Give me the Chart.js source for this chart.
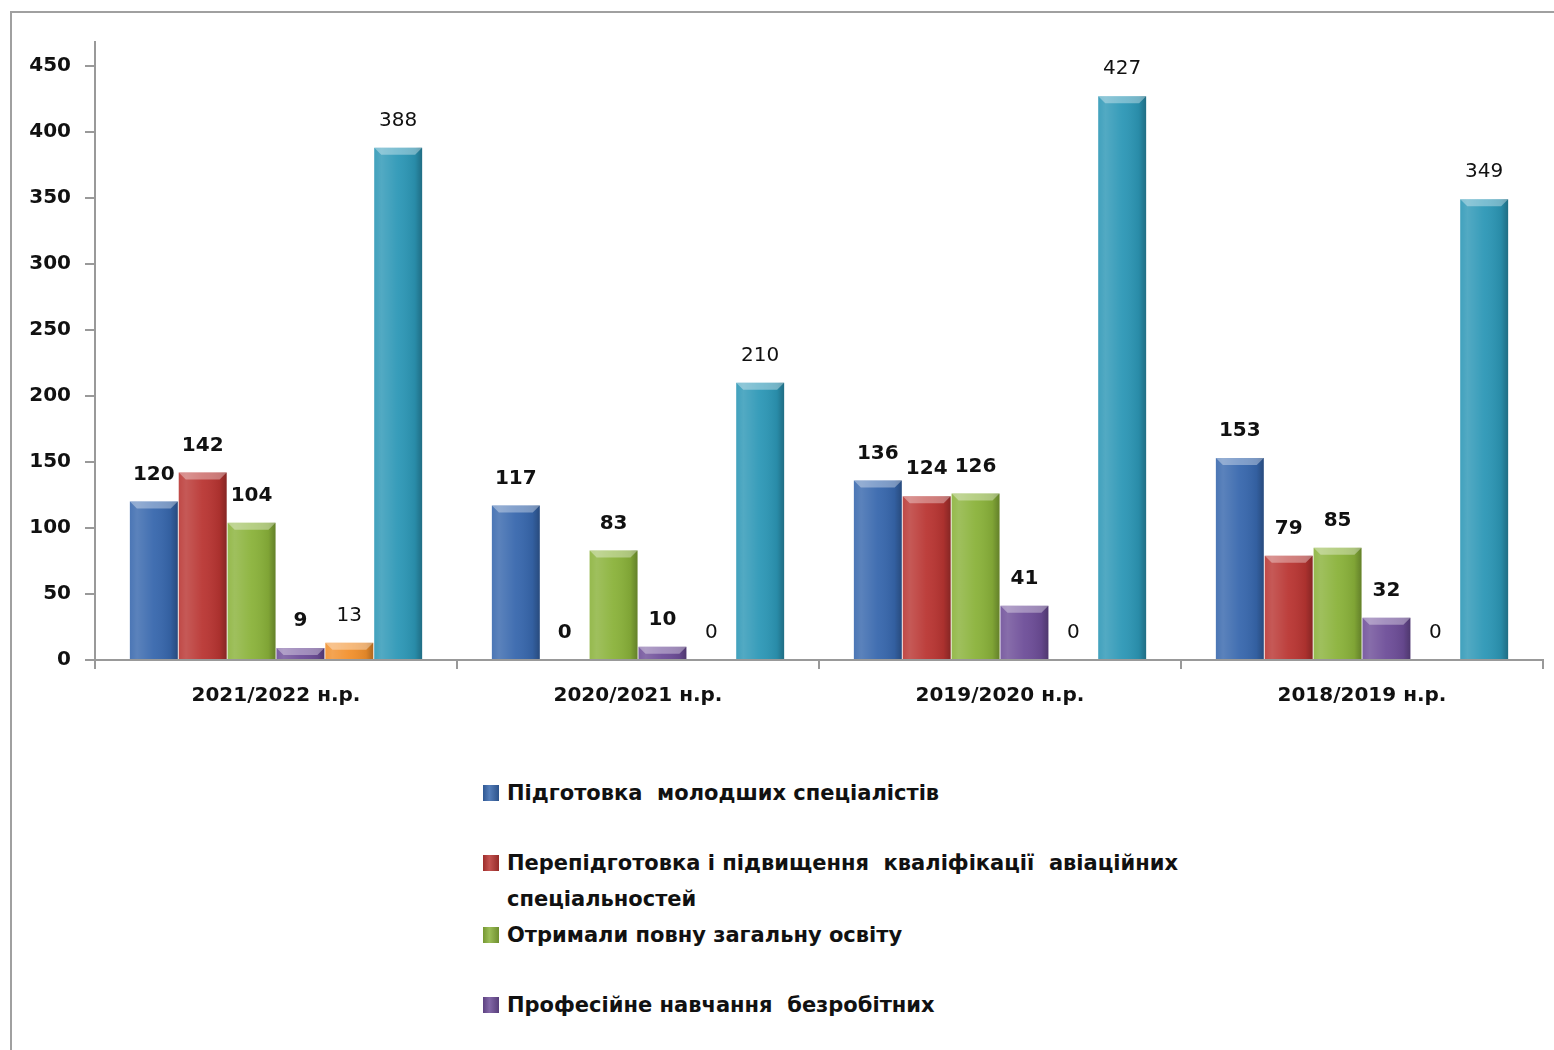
<!DOCTYPE html>
<html>
<head>
<meta charset="utf-8">
<script src="https://cdn.jsdelivr.net/npm/chart.js@4"></script>
<style>
  body { margin: 0; background: #fff; width: 1554px; height: 1050px; overflow: hidden; position: relative; }
  #frame { position: absolute; left: 10px; top: 11px; right: 0; bottom: 0; border-left: 2px solid #a0a0a0; border-top: 2px solid #a0a0a0; }
  #wrap { position: absolute; left: 0; top: 0; width: 1554px; height: 740px; }
  #legend { position: absolute; left: 483px; top: 775px; font: bold 21px "DejaVu Sans", sans-serif; color: #111; }
  .item { display: flex; align-items: flex-start; min-height: 70px; line-height: 36px; }
  .box { width: 16px; height: 16px; margin-top: 10px; margin-right: 8px; flex: none; }
  .txt { width: 720px; white-space: pre-wrap; }
</style>
</head>
<body>
<div id="frame"></div>
<div id="wrap"><canvas id="chart"></canvas></div>
<div id="legend"></div>
<script>
const categories = ["2021/2022 н.р.", "2020/2021 н.р.", "2019/2020 н.р.", "2018/2019 н.р."];
const seriesNames = [
    "Підготовка  молодших спеціалістів",
    "Перепідготовка і підвищення  кваліфікації  авіаційних спеціальностей",
    "Отримали повну загальну освіту",
    "Професійне навчання  безробітних",
    "Інше",
    "Всього"
];
const youngSpecialists = [120, 117, 136, 153];
const retraining = [142, 0, 124, 79];
const generalEducation = [104, 83, 126, 85];
const unemployedTraining = [9, 10, 41, 32];
const otherSeries = [13, 0, 0, 0];
const totalSeries = [388, 210, 427, 349];
const yTicks = [0, 50, 100, 150, 200, 250, 300, 350, 400, 450];

const colors = ["#3767ad", "#b93532", "#8ab23a", "#6d4d98", "#f2902c", "#2c97b6"];
const boldLabels = [true, true, true, true, false, false];
const inLegend = [true, true, true, true, false, false];
const FONT = '"DejaVu Sans", sans-serif';

const allData = [youngSpecialists, retraining, generalEducation, unemployedTraining, otherSeries, totalSeries];

// bevel look for bars
const bevelPlugin = {
    id: "bevel",
    afterDatasetsDraw(chart) {
        const c = chart.ctx;
        chart.data.datasets.forEach((ds, di) => {
            chart.getDatasetMeta(di).data.forEach(bar => {
                const h = bar.base - bar.y;
                if (h <= 0.5) return;
                const left = bar.x - bar.width / 2, right = bar.x + bar.width / 2;
                const g = c.createLinearGradient(left, 0, right, 0);
                g.addColorStop(0, "rgba(255,255,255,0.10)");
                g.addColorStop(0.15, "rgba(255,255,255,0.18)");
                g.addColorStop(0.5, "rgba(255,255,255,0.05)");
                g.addColorStop(0.85, "rgba(0,0,0,0.08)");
                g.addColorStop(1, "rgba(0,0,0,0.28)");
                c.save();
                c.fillStyle = g;
                c.fillRect(left, bar.y, bar.width, h);
                const t = Math.min(7, h);
                c.fillStyle = "rgba(255,255,255,0.35)";
                c.beginPath();
                c.moveTo(left, bar.y);
                c.lineTo(right, bar.y);
                c.lineTo(right - t, bar.y + t);
                c.lineTo(left + t, bar.y + t);
                c.closePath();
                c.fill();
                c.restore();
            });
        });
    }
};

// value labels above bars
const labelPlugin = {
    id: "valueLabels",
    afterDatasetsDraw(chart) {
        const c = chart.ctx;
        c.save();
        c.textAlign = "center";
        c.textBaseline = "middle";
        c.fillStyle = "#111";
        chart.data.datasets.forEach((ds, di) => {
            c.font = (boldLabels[di] ? "bold " : "") + "20px " + FONT;
            chart.getDatasetMeta(di).data.forEach((bar, i) => {
                c.fillText(String(ds.data[i]), bar.x, bar.y - 27);
            });
        });
        c.restore();
    }
};

const chart = new Chart(document.getElementById("chart"), {
    type: "bar",
    data: {
        labels: categories,
        datasets: allData.map((d, i) => ({
            label: seriesNames[i],
            data: d,
            backgroundColor: colors[i],
            categoryPercentage: 0.81,
            barPercentage: 0.98
        }))
    },
    options: {
        responsive: true,
        maintainAspectRatio: false,
        animation: false,
        devicePixelRatio: 1,
        layout: { padding: { top: 42, right: 11, left: 0, bottom: 0 } },
        plugins: { legend: { display: false }, tooltip: { enabled: false } },
        scales: {
            x: {
                grid: { drawOnChartArea: false, color: "#999", tickLength: 9, lineWidth: 2 },
                border: { color: "#999", width: 2 },
                ticks: { color: "#111", font: { family: FONT, size: 20, weight: "bold" }, padding: 15 },
                afterFit(scale) { scale.height = 80; }
            },
            y: {
                min: 0,
                max: 468,
                afterBuildTicks(scale) { scale.ticks = yTicks.map(v => ({ value: v })); },
                grid: { drawOnChartArea: false, color: "#999", tickLength: 10, lineWidth: 2 },
                border: { color: "#999", width: 2 },
                ticks: { color: "#111", font: { family: FONT, size: 20, weight: "bold" }, padding: 14 },
                afterFit(scale) { scale.width = 95; }
            }
        }
    },
    plugins: [bevelPlugin, labelPlugin]
});

// legend built from the chart datasets
const legend = document.getElementById("legend");
chart.data.datasets.forEach((ds, i) => {
    if (!inLegend[i]) return;
    const item = document.createElement("div");
    item.className = "item";
    const box = document.createElement("span");
    box.className = "box";
    box.style.background = `linear-gradient(to right, rgba(0,0,0,0.15), rgba(255,255,255,0.15) 40%, rgba(0,0,0,0.2)), ${ds.backgroundColor}`;
    const txt = document.createElement("span");
    txt.className = "txt";
    txt.textContent = ds.label;
    item.appendChild(box);
    item.appendChild(txt);
    legend.appendChild(item);
});
</script>
</body>
</html>
